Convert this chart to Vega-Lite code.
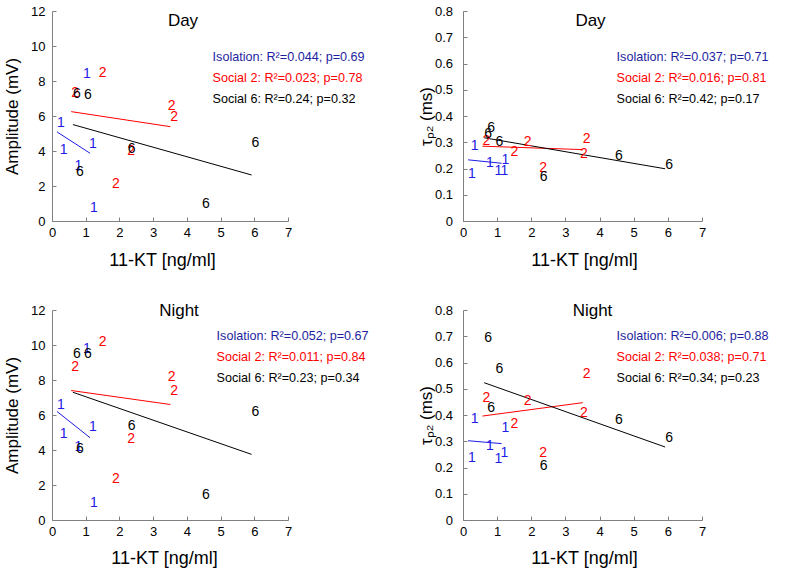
{
  "$schema": "https://vega.github.io/schema/vega-lite/v6.json",
  "background": "white",
  "padding": {"left": 3, "top": 5, "right": 5, "bottom": 5},
  "config": {
    "view": {"stroke": null},
    "font": "Liberation Sans",
    "axis": {"grid": false, "domainColor": "#808080", "tickColor": "#808080", "tickSize": -4, "labelFontSize": 13, "labelColor": "#000000", "titleFontSize": 17, "titleFontWeight": "normal", "titleColor": "#000000", "labelFont": "Liberation Sans", "titleFont": "Liberation Sans", "labelFlush": false, "labelOverlap": false},
    "axisX": {"titleFontSize": 18},
    "legend": {"orient": "none", "title": null, "symbolSize": 0, "symbolStrokeWidth": 0, "symbolOpacity": 0, "labelOffset": 0, "padding": 0, "rowPadding": 8.3, "labelFontSize": 12.6, "labelFont": "Liberation Sans", "labelLimit": 400},
    "title": {"font": "Liberation Sans", "fontSize": 17, "fontWeight": "normal", "color": "#000000", "frame": "group", "anchor": "middle", "baseline": "alphabetic"}
  },
  "datasets": {
    "pts": [
      {"panel": "TL", "group": "Isolation", "label": "1", "kt": 0.15, "value": 5.62},
      {"panel": "TL", "group": "Isolation", "label": "1", "kt": 0.23, "value": 4.06},
      {"panel": "TL", "group": "Isolation", "label": "1", "kt": 1.10, "value": 4.38},
      {"panel": "TL", "group": "Isolation", "label": "1", "kt": 0.67, "value": 3.14},
      {"panel": "TL", "group": "Isolation", "label": "1", "kt": 0.92, "value": 8.40},
      {"panel": "TL", "group": "Isolation", "label": "1", "kt": 1.13, "value": 0.72},
      {"panel": "TL", "group": "Social 2", "label": "2", "kt": 1.39, "value": 8.43},
      {"panel": "TL", "group": "Social 2", "label": "2", "kt": 0.57, "value": 7.30},
      {"panel": "TL", "group": "Social 2", "label": "2", "kt": 3.43, "value": 6.57},
      {"panel": "TL", "group": "Social 2", "label": "2", "kt": 3.51, "value": 5.97},
      {"panel": "TL", "group": "Social 2", "label": "2", "kt": 2.23, "value": 4.00},
      {"panel": "TL", "group": "Social 2", "label": "2", "kt": 1.78, "value": 2.10},
      {"panel": "TL", "group": "Social 6", "label": "6", "kt": 0.62, "value": 7.25},
      {"panel": "TL", "group": "Social 6", "label": "6", "kt": 0.95, "value": 7.18},
      {"panel": "TL", "group": "Social 6", "label": "6", "kt": 2.25, "value": 4.14},
      {"panel": "TL", "group": "Social 6", "label": "6", "kt": 0.71, "value": 2.82},
      {"panel": "TL", "group": "Social 6", "label": "6", "kt": 4.45, "value": 0.95},
      {"panel": "TL", "group": "Social 6", "label": "6", "kt": 5.92, "value": 4.44},

      {"panel": "TR", "group": "Isolation", "label": "1", "kt": 0.15, "value": 0.180},
      {"panel": "TR", "group": "Isolation", "label": "1", "kt": 0.23, "value": 0.287},
      {"panel": "TR", "group": "Isolation", "label": "1", "kt": 0.67, "value": 0.222},
      {"panel": "TR", "group": "Isolation", "label": "1", "kt": 0.92, "value": 0.190},
      {"panel": "TR", "group": "Isolation", "label": "1", "kt": 1.10, "value": 0.192},
      {"panel": "TR", "group": "Isolation", "label": "1", "kt": 1.13, "value": 0.232},
      {"panel": "TR", "group": "Social 2", "label": "2", "kt": 0.57, "value": 0.306},
      {"panel": "TR", "group": "Social 2", "label": "2", "kt": 1.78, "value": 0.300},
      {"panel": "TR", "group": "Social 2", "label": "2", "kt": 1.39, "value": 0.263},
      {"panel": "TR", "group": "Social 2", "label": "2", "kt": 3.51, "value": 0.313},
      {"panel": "TR", "group": "Social 2", "label": "2", "kt": 3.43, "value": 0.257},
      {"panel": "TR", "group": "Social 2", "label": "2", "kt": 2.23, "value": 0.203},
      {"panel": "TR", "group": "Social 6", "label": "6", "kt": 0.62, "value": 0.332},
      {"panel": "TR", "group": "Social 6", "label": "6", "kt": 0.71, "value": 0.355},
      {"panel": "TR", "group": "Social 6", "label": "6", "kt": 0.95, "value": 0.302},
      {"panel": "TR", "group": "Social 6", "label": "6", "kt": 2.25, "value": 0.167},
      {"panel": "TR", "group": "Social 6", "label": "6", "kt": 4.45, "value": 0.246},
      {"panel": "TR", "group": "Social 6", "label": "6", "kt": 5.92, "value": 0.215},

      {"panel": "BL", "group": "Isolation", "label": "1", "kt": 0.15, "value": 6.58},
      {"panel": "BL", "group": "Isolation", "label": "1", "kt": 0.23, "value": 4.93},
      {"panel": "BL", "group": "Isolation", "label": "1", "kt": 1.10, "value": 5.31},
      {"panel": "BL", "group": "Isolation", "label": "1", "kt": 0.67, "value": 4.20},
      {"panel": "BL", "group": "Isolation", "label": "1", "kt": 0.92, "value": 9.80},
      {"panel": "BL", "group": "Isolation", "label": "1", "kt": 1.13, "value": 1.00},
      {"panel": "BL", "group": "Social 2", "label": "2", "kt": 1.39, "value": 10.18},
      {"panel": "BL", "group": "Social 2", "label": "2", "kt": 0.57, "value": 8.73},
      {"panel": "BL", "group": "Social 2", "label": "2", "kt": 2.23, "value": 4.61},
      {"panel": "BL", "group": "Social 2", "label": "2", "kt": 3.43, "value": 8.16},
      {"panel": "BL", "group": "Social 2", "label": "2", "kt": 3.51, "value": 7.40},
      {"panel": "BL", "group": "Social 2", "label": "2", "kt": 1.78, "value": 2.32},
      {"panel": "BL", "group": "Social 6", "label": "6", "kt": 0.62, "value": 9.48},
      {"panel": "BL", "group": "Social 6", "label": "6", "kt": 0.95, "value": 9.48},
      {"panel": "BL", "group": "Social 6", "label": "6", "kt": 0.71, "value": 4.08},
      {"panel": "BL", "group": "Social 6", "label": "6", "kt": 2.25, "value": 5.40},
      {"panel": "BL", "group": "Social 6", "label": "6", "kt": 4.45, "value": 1.42},
      {"panel": "BL", "group": "Social 6", "label": "6", "kt": 5.92, "value": 6.20},

      {"panel": "BR", "group": "Isolation", "label": "1", "kt": 0.15, "value": 0.235},
      {"panel": "BR", "group": "Isolation", "label": "1", "kt": 0.23, "value": 0.384},
      {"panel": "BR", "group": "Isolation", "label": "1", "kt": 0.67, "value": 0.282},
      {"panel": "BR", "group": "Isolation", "label": "1", "kt": 0.92, "value": 0.231},
      {"panel": "BR", "group": "Isolation", "label": "1", "kt": 1.10, "value": 0.257},
      {"panel": "BR", "group": "Isolation", "label": "1", "kt": 1.13, "value": 0.352},
      {"panel": "BR", "group": "Social 2", "label": "2", "kt": 0.57, "value": 0.466},
      {"panel": "BR", "group": "Social 2", "label": "2", "kt": 1.78, "value": 0.453},
      {"panel": "BR", "group": "Social 2", "label": "2", "kt": 1.39, "value": 0.365},
      {"panel": "BR", "group": "Social 2", "label": "2", "kt": 2.23, "value": 0.257},
      {"panel": "BR", "group": "Social 2", "label": "2", "kt": 3.51, "value": 0.555},
      {"panel": "BR", "group": "Social 2", "label": "2", "kt": 3.43, "value": 0.409},
      {"panel": "BR", "group": "Social 6", "label": "6", "kt": 0.62, "value": 0.695},
      {"panel": "BR", "group": "Social 6", "label": "6", "kt": 0.95, "value": 0.574},
      {"panel": "BR", "group": "Social 6", "label": "6", "kt": 0.71, "value": 0.428},
      {"panel": "BR", "group": "Social 6", "label": "6", "kt": 2.25, "value": 0.206},
      {"panel": "BR", "group": "Social 6", "label": "6", "kt": 4.45, "value": 0.381},
      {"panel": "BR", "group": "Social 6", "label": "6", "kt": 5.92, "value": 0.314}
    ],
    "fits": [
      {"panel": "TL", "group": "Isolation", "kt": 0.15, "value": 5.09},
      {"panel": "TL", "group": "Isolation", "kt": 1.13, "value": 3.87},
      {"panel": "TL", "group": "Social 2", "kt": 0.57, "value": 6.25},
      {"panel": "TL", "group": "Social 2", "kt": 3.51, "value": 5.39},
      {"panel": "TL", "group": "Social 6", "kt": 0.62, "value": 5.51},
      {"panel": "TL", "group": "Social 6", "kt": 5.92, "value": 2.63},
      {"panel": "TR", "group": "Isolation", "kt": 0.15, "value": 0.233},
      {"panel": "TR", "group": "Isolation", "kt": 1.13, "value": 0.220},
      {"panel": "TR", "group": "Social 2", "kt": 0.57, "value": 0.285},
      {"panel": "TR", "group": "Social 2", "kt": 3.51, "value": 0.272},
      {"panel": "TR", "group": "Social 6", "kt": 0.62, "value": 0.317},
      {"panel": "TR", "group": "Social 6", "kt": 5.92, "value": 0.199},
      {"panel": "BL", "group": "Isolation", "kt": 0.15, "value": 6.20},
      {"panel": "BL", "group": "Isolation", "kt": 1.13, "value": 4.70},
      {"panel": "BL", "group": "Social 2", "kt": 0.57, "value": 7.40},
      {"panel": "BL", "group": "Social 2", "kt": 3.51, "value": 6.60},
      {"panel": "BL", "group": "Social 6", "kt": 0.62, "value": 7.30},
      {"panel": "BL", "group": "Social 6", "kt": 5.92, "value": 3.75},
      {"panel": "BR", "group": "Isolation", "kt": 0.15, "value": 0.302},
      {"panel": "BR", "group": "Isolation", "kt": 1.13, "value": 0.291},
      {"panel": "BR", "group": "Social 2", "kt": 0.57, "value": 0.396},
      {"panel": "BR", "group": "Social 2", "kt": 3.51, "value": 0.447},
      {"panel": "BR", "group": "Social 6", "kt": 0.62, "value": 0.523},
      {"panel": "BR", "group": "Social 6", "kt": 5.92, "value": 0.278}
    ]
  },
  "columns": 2,
  "spacing": {"row": 89, "column": 175},
  "bounds": "flush",
  "resolve": {"scale": {"color": "independent"}, "legend": {"color": "independent"}},
  "concat": [
    {
      "width": 236, "height": 210,
      "title": {"text": "Day", "offset": -25, "dx": 13},
      "encoding": {
        "x": {"field": "kt", "type": "quantitative", "scale": {"domain": [0, 7], "nice": false}, "axis": {"values": [0,1,2,3,4,5,6,7], "title": "11-KT [ng/ml]", "labelPadding": 9.5, "titleX": 110, "titleY": 44, "titleBaseline": "alphabetic"}},
        "y": {"field": "value", "type": "quantitative", "scale": {"domain": [0, 12], "nice": false}, "axis": {"values": [0,2,4,6,8,10,12], "title": "Amplitude (mV)", "labelPadding": 11, "titleX": -40, "titleY": 105, "titleBaseline": "middle"}},
        "color": {"field": "group", "type": "nominal", "scale": {"domain": ["Isolation", "Social 2", "Social 6"], "range": ["#1c1ce6", "#ff0000", "#000000"]},
          "legend": {"legendX": 148, "legendY": 39.5,
            "labelExpr": "datum.label == 'Isolation' ? 'Isolation: R²=0.044; p=0.69' : datum.label == 'Social 2' ? 'Social 2: R²=0.023; p=0.78' : 'Social 6: R²=0.24; p=0.32'",
            "labelColor": {"expr": "datum.label == 'Isolation' ? '#1e1ea0' : datum.label == 'Social 2' ? '#ff0000' : '#000000'"}}}
      },
      "layer": [
        {"data": {"name": "fits"}, "transform": [{"filter": "datum.panel == 'TL'"}], "mark": {"type": "line", "strokeWidth": 1}},
        {"data": {"name": "pts"}, "transform": [{"filter": "datum.panel == 'TL'"}], "mark": {"type": "text", "align": "left", "baseline": "middle", "fontSize": 14, "font": "Liberation Sans"}, "encoding": {"text": {"field": "label"}}}
      ]
    },
    {
      "width": 239, "height": 210,
      "title": {"text": "Day", "offset": -25, "dx": 8},
      "encoding": {
        "x": {"field": "kt", "type": "quantitative", "scale": {"domain": [0, 7], "nice": false}, "axis": {"values": [0,1,2,3,4,5,6,7], "title": "11-KT [ng/ml]", "labelPadding": 9.5, "titleX": 121, "titleY": 44, "titleBaseline": "alphabetic"}},
        "y": {"field": "value", "type": "quantitative", "scale": {"domain": [0, 0.8], "nice": false}, "axis": {"values": [0,0.1,0.2,0.3,0.4,0.5,0.6,0.7,0.8], "format": ".1~f", "title": "τₚ₂ (ms)", "labelPadding": 14.5, "titleX": -37, "titleY": 105, "titleBaseline": "middle"}},
        "color": {"field": "group", "type": "nominal", "scale": {"domain": ["Isolation", "Social 2", "Social 6"], "range": ["#1c1ce6", "#ff0000", "#000000"]},
          "legend": {"legendX": 141, "legendY": 39.5,
            "labelExpr": "datum.label == 'Isolation' ? 'Isolation: R²=0.037; p=0.71' : datum.label == 'Social 2' ? 'Social 2: R²=0.016; p=0.81' : 'Social 6: R²=0.42; p=0.17'",
            "labelColor": {"expr": "datum.label == 'Isolation' ? '#1e1ea0' : datum.label == 'Social 2' ? '#ff0000' : '#000000'"}}}
      },
      "layer": [
        {"data": {"name": "fits"}, "transform": [{"filter": "datum.panel == 'TR'"}], "mark": {"type": "line", "strokeWidth": 1}},
        {"data": {"name": "pts"}, "transform": [{"filter": "datum.panel == 'TR'"}], "mark": {"type": "text", "align": "left", "baseline": "middle", "fontSize": 14, "font": "Liberation Sans"}, "encoding": {"text": {"field": "label"}}}
      ]
    },
    {
      "width": 236, "height": 210,
      "title": {"text": "Night", "offset": -16, "dx": 9},
      "encoding": {
        "x": {"field": "kt", "type": "quantitative", "scale": {"domain": [0, 7], "nice": false}, "axis": {"values": [0,1,2,3,4,5,6,7], "title": "11-KT [ng/ml]", "labelPadding": 9.5, "titleX": 112, "titleY": 43, "titleBaseline": "alphabetic"}},
        "y": {"field": "value", "type": "quantitative", "scale": {"domain": [0, 12], "nice": false}, "axis": {"values": [0,2,4,6,8,10,12], "title": "Amplitude (mV)", "labelPadding": 11, "titleX": -40, "titleY": 105, "titleBaseline": "middle"}},
        "color": {"field": "group", "type": "nominal", "scale": {"domain": ["Isolation", "Social 2", "Social 6"], "range": ["#1c1ce6", "#ff0000", "#000000"]},
          "legend": {"legendX": 152, "legendY": 19.5,
            "labelExpr": "datum.label == 'Isolation' ? 'Isolation: R²=0.052; p=0.67' : datum.label == 'Social 2' ? 'Social 2: R²=0.011; p=0.84' : 'Social 6: R²=0.23; p=0.34'",
            "labelColor": {"expr": "datum.label == 'Isolation' ? '#1e1ea0' : datum.label == 'Social 2' ? '#ff0000' : '#000000'"}}}
      },
      "layer": [
        {"data": {"name": "fits"}, "transform": [{"filter": "datum.panel == 'BL'"}], "mark": {"type": "line", "strokeWidth": 1}},
        {"data": {"name": "pts"}, "transform": [{"filter": "datum.panel == 'BL'"}], "mark": {"type": "text", "align": "left", "baseline": "middle", "fontSize": 14, "font": "Liberation Sans"}, "encoding": {"text": {"field": "label"}}}
      ]
    },
    {
      "width": 239, "height": 210,
      "title": {"text": "Night", "offset": -16, "dx": 10},
      "encoding": {
        "x": {"field": "kt", "type": "quantitative", "scale": {"domain": [0, 7], "nice": false}, "axis": {"values": [0,1,2,3,4,5,6,7], "title": "11-KT [ng/ml]", "labelPadding": 9.5, "titleX": 121, "titleY": 43, "titleBaseline": "alphabetic"}},
        "y": {"field": "value", "type": "quantitative", "scale": {"domain": [0, 0.8], "nice": false}, "axis": {"values": [0,0.1,0.2,0.3,0.4,0.5,0.6,0.7,0.8], "format": ".1~f", "title": "τₚ₂ (ms)", "labelPadding": 14.5, "titleX": -37, "titleY": 105, "titleBaseline": "middle"}},
        "color": {"field": "group", "type": "nominal", "scale": {"domain": ["Isolation", "Social 2", "Social 6"], "range": ["#1c1ce6", "#ff0000", "#000000"]},
          "legend": {"legendX": 141, "legendY": 19.5,
            "labelExpr": "datum.label == 'Isolation' ? 'Isolation: R²=0.006; p=0.88' : datum.label == 'Social 2' ? 'Social 2: R²=0.038; p=0.71' : 'Social 6: R²=0.34; p=0.23'",
            "labelColor": {"expr": "datum.label == 'Isolation' ? '#1e1ea0' : datum.label == 'Social 2' ? '#ff0000' : '#000000'"}}}
      },
      "layer": [
        {"data": {"name": "fits"}, "transform": [{"filter": "datum.panel == 'BR'"}], "mark": {"type": "line", "strokeWidth": 1}},
        {"data": {"name": "pts"}, "transform": [{"filter": "datum.panel == 'BR'"}], "mark": {"type": "text", "align": "left", "baseline": "middle", "fontSize": 14, "font": "Liberation Sans"}, "encoding": {"text": {"field": "label"}}}
      ]
    }
  ]
}
